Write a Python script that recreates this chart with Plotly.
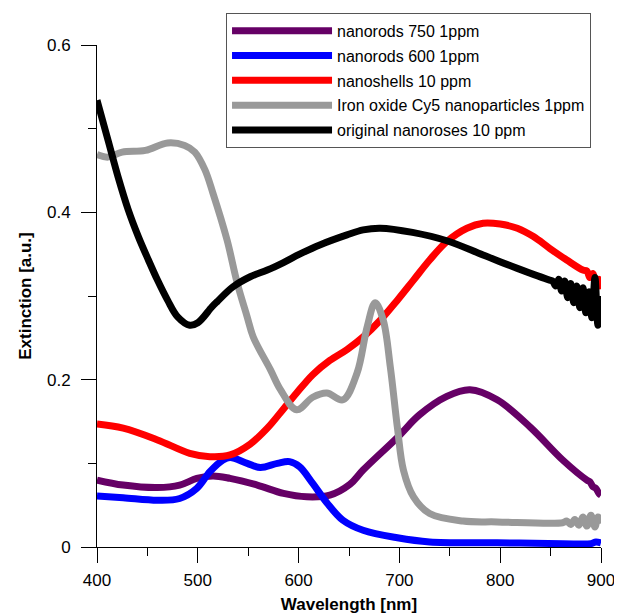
import plotly.graph_objects as go

# ---- data ----
pur_x = [400, 426, 460, 482, 499, 515, 532, 559, 585, 608, 631, 651, 664, 698, 720, 747, 770, 797, 830, 862, 886, 889, 892, 895, 898, 900]
pur_y = [0.080, 0.074, 0.071, 0.074, 0.082, 0.085, 0.082, 0.074, 0.064, 0.060, 0.062, 0.075, 0.092, 0.131, 0.158, 0.180, 0.188, 0.176, 0.143, 0.104, 0.080, 0.078, 0.072, 0.070, 0.064, 0.062]

blue_x = [400, 426, 460, 482, 499, 512, 525, 532, 549, 562, 579, 591, 601, 614, 628, 644, 664, 698, 730, 797, 862, 890, 895, 900]
blue_y = [0.061, 0.059, 0.056, 0.058, 0.070, 0.090, 0.104, 0.107, 0.100, 0.095, 0.100, 0.102, 0.096, 0.076, 0.053, 0.032, 0.020, 0.011, 0.006, 0.005, 0.004, 0.004, 0.006, 0.005]

red_x = [400, 426, 460, 492, 512, 532, 552, 569, 585, 598, 614, 631, 648, 664, 681, 698, 714, 730, 747, 767, 783, 800, 817, 833, 849, 866, 882, 886, 889, 892, 895, 898, 900]
red_y = [0.147, 0.142, 0.128, 0.112, 0.108, 0.110, 0.123, 0.142, 0.165, 0.184, 0.206, 0.223, 0.236, 0.251, 0.271, 0.295, 0.319, 0.343, 0.365, 0.381, 0.387, 0.386, 0.381, 0.371, 0.357, 0.343, 0.331, 0.330, 0.322, 0.327, 0.316, 0.320, 0.308]

gray_x = [400, 411, 425, 448, 470, 487, 497, 507, 515, 529, 539, 549, 555, 572, 582, 598, 614, 628, 644, 658, 668, 676, 684, 691, 698, 704, 714, 730, 763, 797, 862, 866, 870, 874, 878, 882, 886, 890, 894, 897, 900]
gray_y = [0.469, 0.466, 0.472, 0.474, 0.483, 0.480, 0.472, 0.451, 0.423, 0.367, 0.316, 0.275, 0.251, 0.212, 0.188, 0.164, 0.179, 0.184, 0.176, 0.208, 0.263, 0.292, 0.271, 0.215, 0.143, 0.092, 0.060, 0.040, 0.031, 0.030, 0.029, 0.031, 0.027, 0.033, 0.026, 0.036, 0.025, 0.038, 0.024, 0.036, 0.028]

black_x = [400, 411, 421, 431, 441, 451, 460, 470, 480, 492, 500, 514, 519, 535, 552, 569, 585, 601, 621, 648, 664, 681, 713, 747, 783, 817, 849, 852, 855, 858, 861, 864, 867, 870, 873, 876, 879, 882, 885, 888, 891, 894, 897, 900]
black_y = [0.534, 0.486, 0.442, 0.403, 0.371, 0.343, 0.319, 0.295, 0.275, 0.265, 0.268, 0.287, 0.293, 0.311, 0.323, 0.331, 0.340, 0.350, 0.361, 0.373, 0.379, 0.381, 0.376, 0.366, 0.349, 0.333, 0.319, 0.318, 0.312, 0.320, 0.306, 0.318, 0.298, 0.315, 0.292, 0.312, 0.286, 0.310, 0.280, 0.305, 0.274, 0.322, 0.265, 0.300]

series = [
    ("nanorods 750 1ppm", pur_x, pur_y, "#660066"),
    ("nanorods 600 1ppm", blue_x, blue_y, "#0000ff"),
    ("nanoshells 10 ppm", red_x, red_y, "#ff0000"),
    ("Iron oxide Cy5 nanoparticles 1ppm", gray_x, gray_y, "#999999"),
    ("original nanoroses 10 ppm", black_x, black_y, "#000000"),
]

x_ticks = [400, 500, 600, 700, 800, 900]
y_ticks = [0, 0.2, 0.4, 0.6]
y_labels = ["0", "0.2", "0.4", "0.6"]

FONT = "Liberation Sans, Arial, Helvetica, sans-serif"

fig = go.Figure()
for i, (name, xs, ys, col) in enumerate(series):
    fig.add_trace(go.Scatter(
        x=xs, y=ys, name=name, mode="lines", legendgroup=f"g{i}",
        line=dict(color=col, width=7, shape="spline", smoothing=1.0),
    ))

axis_common = dict(
    showline=True, linecolor="black", linewidth=1, mirror=False,
    showgrid=False, zeroline=False,
    ticks="outside", ticklen=15, tickwidth=1, tickcolor="black",
    tickfont=dict(family=FONT, size=17, color="black"),
)

fig.update_xaxes(
    range=[400, 900], tickvals=x_ticks, ticklabelstandoff=3,
    minor=dict(dtick=50, tick0=400, ticks="outside", ticklen=8, tickcolor="black", tickwidth=1, showgrid=False),
    title=dict(text="<b>Wavelength [nm]</b>", font=dict(family=FONT, size=17, color="black"), standoff=9),
    **axis_common,
)
fig.update_yaxes(
    range=[0, 0.6], tickvals=y_ticks, ticktext=y_labels, ticklabelstandoff=7,
    minor=dict(dtick=0.1, tick0=0, ticks="outside", ticklen=8, tickcolor="black", tickwidth=1, showgrid=False),
    title=dict(text="<b>Extinction [a.u.]</b>", font=dict(family=FONT, size=17, color="black"), standoff=11),
    **axis_common,
)

# page body has an 8px default margin, so the figure is shrunk and offset accordingly
fig.update_layout(
    width=614, height=606,
    margin=dict(l=89, r=21, t=37, b=67, autoexpand=False),
    paper_bgcolor="white", plot_bgcolor="white",
    showlegend=True,
    legend=dict(
        x=0.256, y=1.064, xanchor="left", yanchor="top",
        bgcolor="white", bordercolor="#555555", borderwidth=1,
        font=dict(family=FONT, size=16, color="black"),
        traceorder="grouped", tracegroupgap=1, itemwidth=100,
    ),
)

fig.write_html("out.html")
